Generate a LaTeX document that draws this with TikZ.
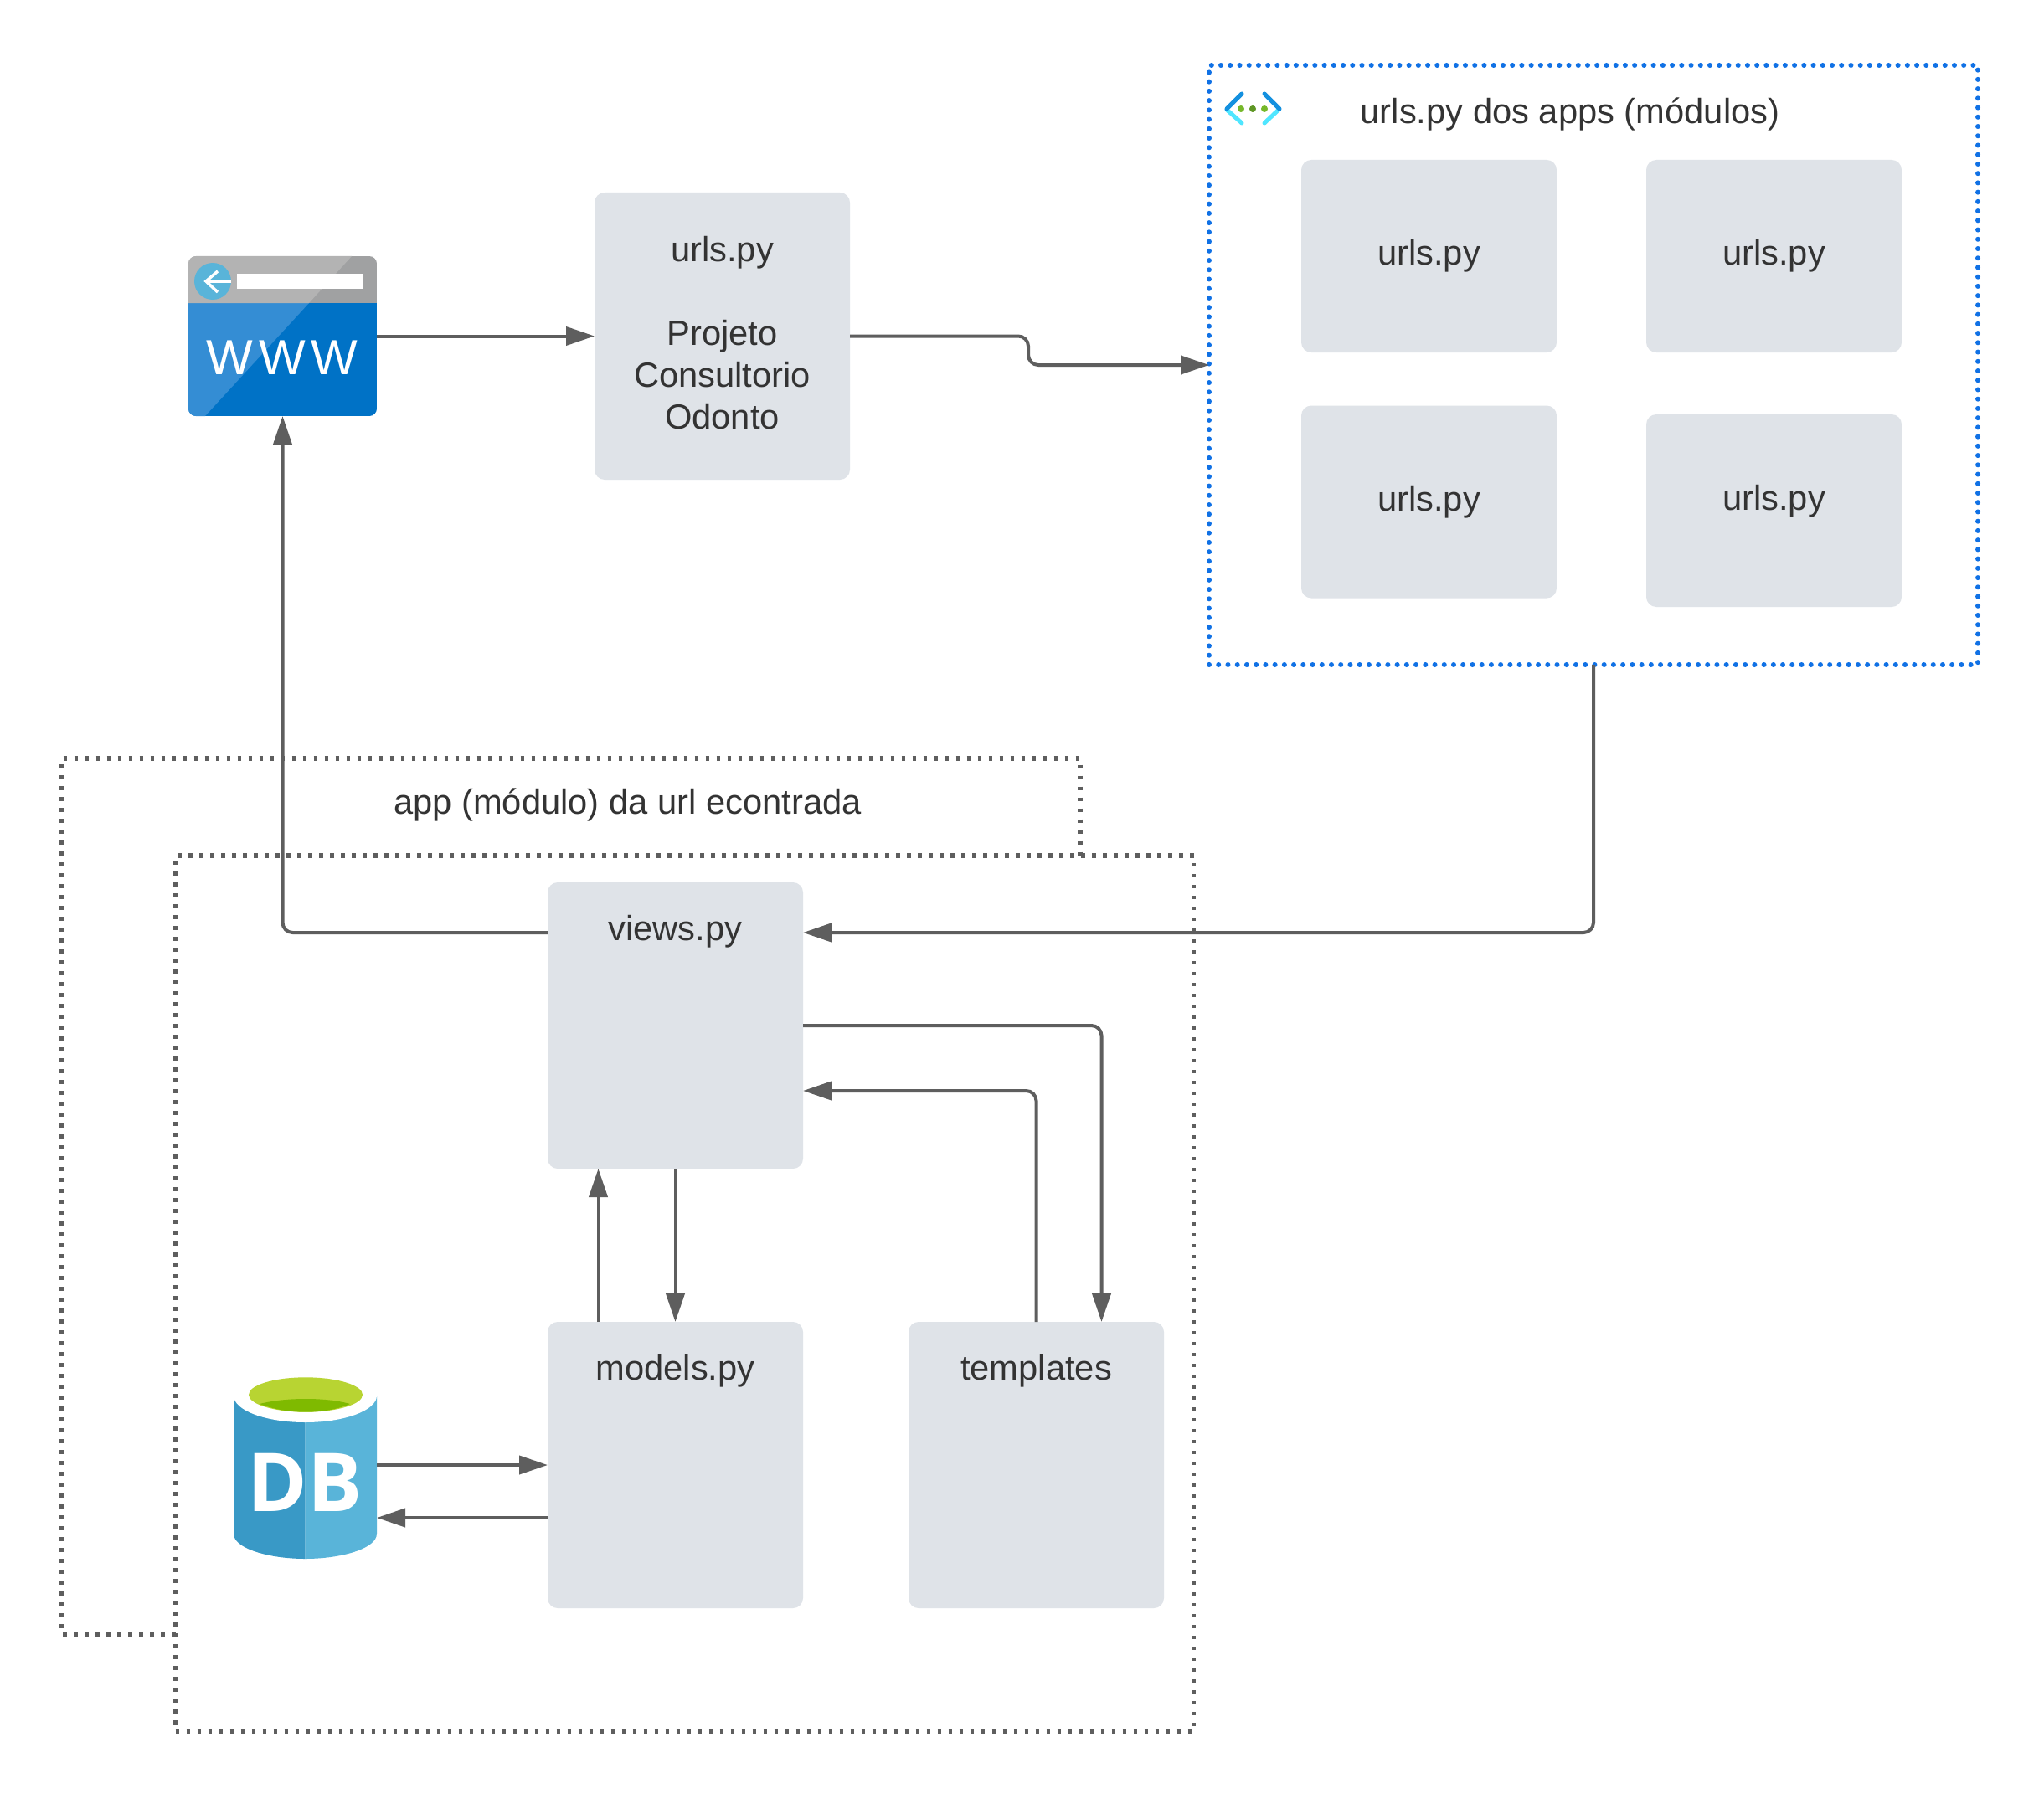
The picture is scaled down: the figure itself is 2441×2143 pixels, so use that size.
\documentclass[tikz,border=0pt]{standalone}
\usepackage{fontspec}
\setmainfont{Liberation Sans}
\newfontfamily\dbfont{Open Sans}
\usetikzlibrary{arrows.meta,calc}
\definecolor{boxfill}{HTML}{DFE3E8}
\definecolor{inktext}{HTML}{333333}
\definecolor{linegray}{HTML}{5E5E5E}
\definecolor{dotblue}{HTML}{1071E5}
\tikzset{
  x=1pt,y=-1pt,
  base/.style={inner sep=0pt,outer sep=0pt},
  card/.style={base,fill=boxfill,rounded corners=12pt,text=inktext,font=\fontsize{41.7}{50}\selectfont,minimum width=305pt},
  gridcard/.style={card,minimum height=230pt},
  tallcard/.style={card,minimum height=342pt,text height=69pt,text depth=273pt},
  caption/.style={base,text=inktext,font=\fontsize{41.7}{50}\selectfont},
  ghost/.style={base,draw=none,fill=none},
  link/.style={draw=linegray,line width=4pt,rounded corners=12pt,-{Triangle[length=34pt,width=22pt]}},
  grayframe/.style={draw=linegray,line width=5.5pt,dash pattern=on 4.5pt off 8.5pt},
  blueframe/.style={draw=dotblue,line width=6pt,line cap=round,dash pattern=on 0pt off 11.23pt},
}
\newcommand{\lifted}[1]{\raisebox{8pt}{#1}}
\begin{document}
\begin{tikzpicture}
\useasboundingbox (0,0) rectangle (2441,2143);
\fill[white] (0,0) rectangle (2441,2143);

% frames
\node[base,blueframe,minimum width=918pt,minimum height=716pt] (apps) at (1903,436) {};
\node[base,grayframe,minimum width=1216pt,minimum height=1046pt] (app) at (817.5,1545) {};
\coordinate (outerstart) at (209.5,1952);
\coordinate (outerend) at (1290,1022);
\draw[grayframe] (outerstart) -- (74,1952) -- (74,906) -- (1290,906) -- (outerend);

% captions
\node[caption] (appscaption) at (1875,136) {urls.py dos apps (módulos)};
\node[caption] (appcaption) at (749.5,961) {app (módulo) da url econtrada};

% cards
\node[card,minimum height=343pt,align=center,text depth=0pt] (main) at (862.5,401.5) {\lifted{urls.py}\\\lifted{\strut}\\\lifted{Projeto}\\\lifted{Consultorio}\\\lifted{Odonto}};
\node[gridcard] (u1) at (1706.5,306) {urls.py};
\node[gridcard] (u2) at (2118.5,306) {urls.py};
\node[gridcard] (u3) at (1706.5,599.5) {urls.py};
\node[gridcard,text height=114pt,text depth=116pt] (u4) at (2118.5,610) {urls.py};
\node[tallcard] (views) at (806.5,1225) {views.py};
\node[tallcard] (models) at (806.5,1750) {models.py};
\node[tallcard] (templates) at (1237.5,1750) {templates};

% www icon
\begin{scope}
\clip[rounded corners=9pt] (225,306) rectangle (450,497);
\fill[fill={rgb,255:red,0;green,114;blue,198}] (225,362) rectangle (450,497);
\fill[fill={rgb,255:red,160;green,161;blue,162}] (225,306) rectangle (450,362);
\fill[fill={rgb,255:red,52;green,141;blue,212}] (225,362) -- (369,362) -- (245,497) -- (225,497) -- cycle;
\fill[fill={rgb,255:red,179;green,179;blue,179}] (225,306) -- (420,306) -- (369,362) -- (225,362) -- cycle;
\end{scope}
\fill[fill={rgb,255:red,89;green,180;blue,217}] (254,336) circle (22);
\fill[white] (283,327) rectangle (434,345);
\draw[white,line width=3pt] (276,336) -- (246,336);
\draw[white,line width=3.5pt] (260,324) -- (246,336) -- (260,349);
\node[ghost,minimum width=225pt,minimum height=191pt] (www) at (337.5,401.5) {};
\node[base,text=white,font=\fontsize{59}{60}\selectfont\addfontfeatures{LetterSpace=11}] (wwwtext) at (337,427) {WWW};

% db icon
\fill[fill={rgb,255:red,57;green,153;blue,198}] (279,1668) -- (279,1832) .. controls (279,1850) and (322,1862) .. (364.5,1862) -- (364.5,1668) -- cycle;
\fill[fill={rgb,255:red,89;green,180;blue,217}] (450,1668) -- (450,1832) .. controls (450,1850) and (407,1862) .. (364.5,1862) -- (364.5,1668) -- cycle;
\fill[white] (364.5,1667) ellipse [x radius=85.5,y radius=32];
\fill[fill={rgb,255:red,184;green,212;blue,50}] (365,1666) ellipse [x radius=68,y radius=20.7];
\fill[fill={rgb,255:red,127;green,186;blue,0}] (310,1677) .. controls (330,1672) and (350,1671) .. (365,1671) .. controls (380,1671) and (400,1672) .. (418,1677) .. controls (405,1683) and (385,1686.7) .. (365,1686.7) .. controls (345,1686.7) and (325,1683) .. (310,1677) -- cycle;
\node[ghost,minimum width=171pt,minimum height=217pt] (db) at (364.5,1753.5) {};
\node[base,text=white,font=\dbfont\bfseries\fontsize{97}{100}\selectfont] (dbtext) at (364,1771) {DB};

% network icon
\begin{scope}[line width=5pt,line cap=round]
\draw[draw={rgb,255:red,80;green,230;blue,255}] (1465,131) -- (1483,147);
\draw[draw={rgb,255:red,80;green,230;blue,255}] (1527,131) -- (1510,147);
\draw[draw={rgb,255:red,20;green,144;blue,223}] (1483,112) -- (1465,130);
\draw[draw={rgb,255:red,20;green,144;blue,223}] (1510,112) -- (1528,130);
\end{scope}
\fill[fill={rgb,255:red,118;green,184;blue,42}] (1482,130) circle (4);
\fill[fill={rgb,255:red,94;green,150;blue,36}] (1496,130) circle (4);
\fill[fill={rgb,255:red,118;green,184;blue,42}] (1510,130) circle (4);

% connectors
\coordinate (viewsupper) at ([yshift=111pt]views.east);
\coordinate (viewsleft) at ([yshift=111pt]views.west);
\coordinate (viewslower) at ([yshift=-78pt]views.east);
\coordinate (modelsout) at ([yshift=-63pt]models.west);
\coordinate (viewsin) at ([xshift=-92pt]views.south);
\coordinate (templatesin) at ([xshift=78pt]templates.north);

\draw[link] (www.east) -- (main.west);
\draw[link] (main.east) -- (1228,401.5) -- (1228,436) -- (apps.west);
\draw[link] (apps.south) |- (viewsupper);
\draw[link] (viewsleft) -| (www.south);
\draw[link] (views.east) -| (templatesin);
\draw[link] (templates.north) |- (viewslower);
\draw[link] (views.south) -- (models.north);
\draw[link] (models.north -| viewsin) -- (viewsin);
\draw[link] (db.east |- models.west) -- (models.west);
\draw[link] (modelsout) -- (db.east |- modelsout);
\end{tikzpicture}
\end{document}
